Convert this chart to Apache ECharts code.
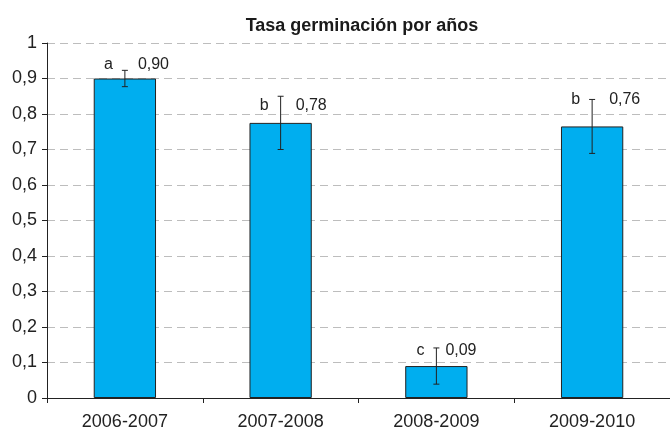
<!DOCTYPE html>
<html>
<head>
<meta charset="utf-8">
<script src="https://cdn.jsdelivr.net/npm/echarts@6/dist/echarts.min.js"></script>
<style>
  html, body { margin: 0; padding: 0; background: #fff; }
  #chart { width: 670px; height: 435px; }
</style>
</head>
<body>
<div id="chart"></div>
<script>
// data
const categories = ["2006-2007", "2007-2008", "2008-2009", "2009-2010"];
const germRate = [0.90, 0.775, 0.09, 0.765];
const errHalf = [0.023, 0.075, 0.051, 0.076];
const valueText = ["0,90", "0,78", "0,09", "0,76"];
const groupLetters = ["a", "b", "c", "b"];
// small pixel nudges for the hand-placed labels [dx, dy]
const labelNudge = [[0, -6], [2, 9], [-4, 3], [4, 0]];

const FONT = "'Liberation Sans', Arial, sans-serif";
const INK = "#222";

var chart = echarts.init(document.getElementById("chart"));

function renderErr(params, api) {
  let idx = api.value(0);
  let v = api.value(1);
  let e = api.value(2);
  let top = api.coord([idx, v + e]);
  let bot = api.coord([idx, v - e]);
  let n = labelNudge[idx];
  let st = { stroke: INK, lineWidth: 1 };
  return {
    type: "group",
    children: [
      { type: "line", shape: { x1: top[0], y1: top[1], x2: bot[0], y2: bot[1] }, style: st },
      { type: "line", shape: { x1: top[0] - 3, y1: top[1], x2: top[0] + 3, y2: top[1] }, style: st },
      { type: "line", shape: { x1: bot[0] - 3, y1: bot[1], x2: bot[0] + 3, y2: bot[1] }, style: st },
      {
        type: "text",
        style: {
          x: top[0] - 12, y: top[1] + n[1],
          text: groupLetters[idx], fill: INK, font: "16px " + FONT,
          align: "right", verticalAlign: "middle",
        },
      },
      {
        type: "text",
        style: {
          x: top[0] + 13 + n[0], y: top[1] + n[1],
          text: valueText[idx], fill: INK, font: "16px " + FONT,
          align: "left", verticalAlign: "middle",
        },
      },
    ],
  };
}

let option = {
  animation: false,
  backgroundColor: "#fff",
  title: {
    text: "Tasa germinación por años",
    left: 357,
    textAlign: "center",
    top: 12,
    textStyle: { fontFamily: FONT, fontSize: 18, fontWeight: "bold", color: "#1a1a1a" },
  },
  grid: { left: 47, top: 43, width: 627, bottom: 37 },
  xAxis: {
    type: "category",
    data: categories,
    axisLine: { lineStyle: { color: INK, width: 1 } },
    axisTick: { show: true, length: 5, lineStyle: { color: INK } },
    axisLabel: { color: INK, fontFamily: FONT, fontSize: 18, margin: 15 },
  },
  yAxis: {
    type: "value",
    min: 0,
    max: 1,
    interval: 0.1,
    axisLine: { show: true, lineStyle: { color: INK, width: 1 } },
    axisTick: { show: true, length: 5, lineStyle: { color: INK } },
    axisLabel: {
      color: INK, fontFamily: FONT, fontSize: 18, margin: 10,
      formatter: (v) => String(+v.toFixed(1)).replace(".", ","),
    },
    splitLine: { show: true, lineStyle: { color: "#bdbdbd", type: [8, 5], width: 1 } },
  },
  series: [
    {
      type: "bar",
      data: germRate,
      barWidth: "40%",
      itemStyle: { color: "#00aeef", borderColor: INK, borderWidth: 1 },
    },
    {
      type: "custom",
      renderItem: renderErr,
      data: germRate.map((v, i) => [i, v, errHalf[i]]),
      encode: { x: 0, y: 1 },
      z: 5,
    },
  ],
};

chart.setOption(option);
</script>
</body>
</html>
